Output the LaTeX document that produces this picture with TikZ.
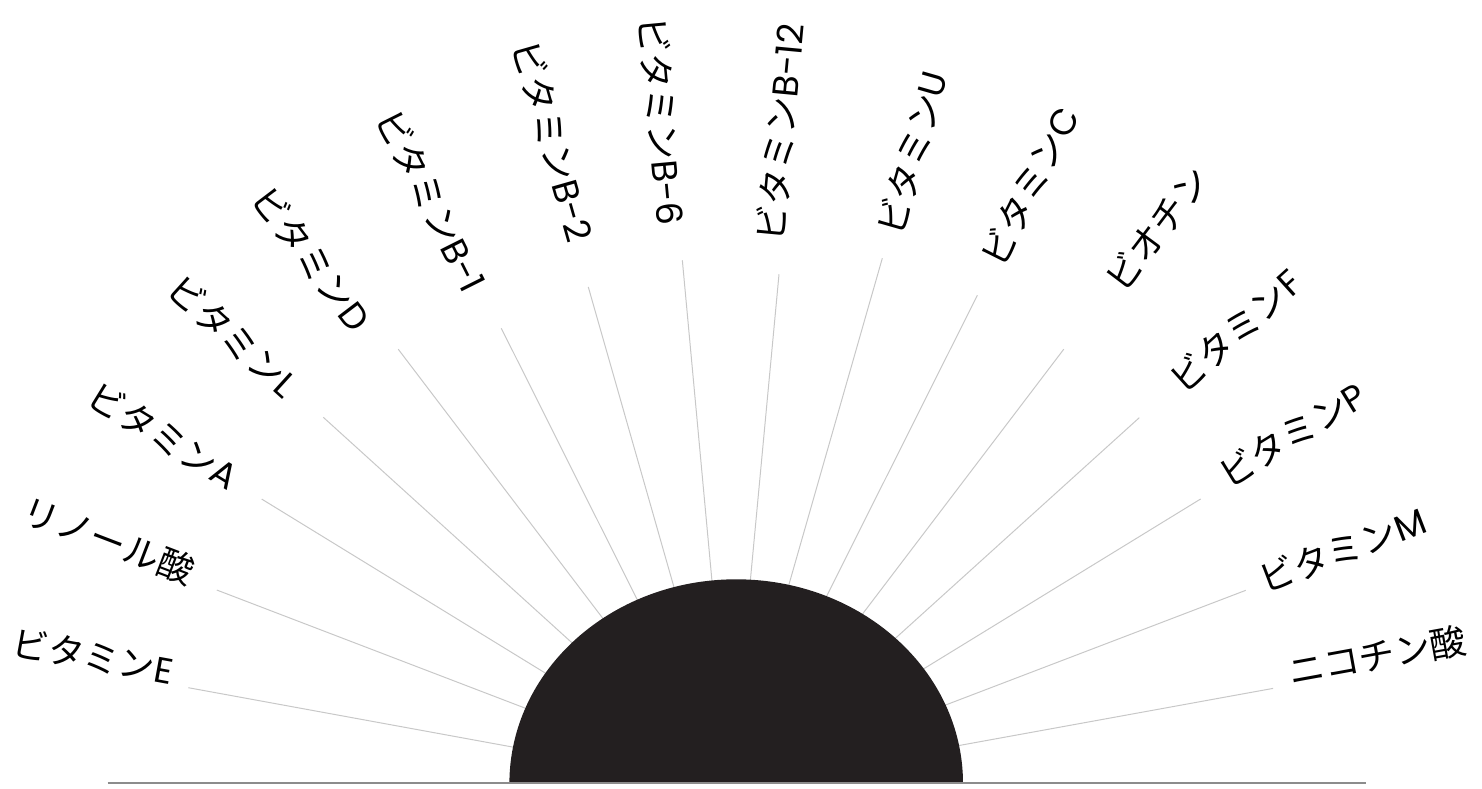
\documentclass[tikz,border=0pt]{standalone}
\usepackage{fontspec}
\newfontfamily\jp{Noto Sans CJK JP}
\newfontfamily\lat{Poppins}
\definecolor{raygray}{HTML}{C8C8C8}
\definecolor{basegray}{HTML}{8C8C8C}
\definecolor{sunblack}{HTML}{231F20}
\tikzset{
  rayline/.style={draw=raygray, line width=1pt},
  baseline/.style={draw=basegray, line width=2pt},
  lab/.style={inner sep=0pt, font=\jp\fontsize{36}{42}\selectfont, text=black},
}
\begin{document}
\begin{tikzpicture}[x=1pt,y=1pt]
\useasboundingbox (0,0) rectangle (1482,789);
\coordinate (c) at (731,2);
% rays and labels, right side
\foreach \k/\t/\r/\dx/\dy/\s in {
  1/10.31/551/0/0/ニコチン酸,
  2/20.91/551/3/-10/ビタミン{\lat M},
  3/31.52/551/13/0/ビタミン{\lat P},
  4/42.13/550.5/32/10/ビタミン{\lat F},
  5/52.76/550/50/40/ビオチン,
  6/63.39/550/18/10/ビタミン{\lat C},
  7/74.03/550/15/3/ビタミン{\lat U},
  8/84.65/515/3/14/ビタミン{\lat B-12}}{
  \path (c) ++(\t:150) coordinate (s\k);
  \path (c) ++(\t:\r) coordinate (e\k);
  \path (c) ++(\t:\r+18) ++(\dx,\dy) node[lab, rotate=\t, anchor=base west] (l\k) {\s};
  \draw[rayline] (s\k) -- (e\k);
}
% left side
\foreach \k/\t/\r/\dx/\dy/\s in {
  9/95.28/529/-23/16/ビタミン{\lat B-6},
  10/105.93/520/-15/25/ビタミン{\lat B-2},
  11/116.6/513/-30/17/ビタミン{\lat B-1},
  12/127.24/550/-35/0/ビタミン{\lat D},
  13/137.8/550.4/-27/5/ビタミン{\lat L},
  14/148.47/550.6/-18/-2/ビタミン{\lat A},
  15/159.04/550.7/-12/-2/リノール酸,
  16/169.63/551.7/0/0/ビタミン{\lat E}}{
  \path (c) ++(\t:150) coordinate (s\k);
  \path (c) ++(\t:\r) coordinate (e\k);
  \pgfmathsetmacro{\rot}{\t-180}
  \path (c) ++(\t:\r+18) ++(\dx,\dy) node[lab, rotate=\rot, anchor=base east] (l\k) {\s};
  \draw[rayline] (s\k) -- (e\k);
}
% half sun
\fill[sunblack] (509.4,5.5) arc[start angle=180, end angle=0, x radius=226.8, y radius=204.2] -- cycle;
% base line
\coordinate (bl) at (107.7,5.5);
\coordinate (br) at (1366,5.5);
\draw[baseline] (bl) -- (br);
\end{tikzpicture}
\end{document}
